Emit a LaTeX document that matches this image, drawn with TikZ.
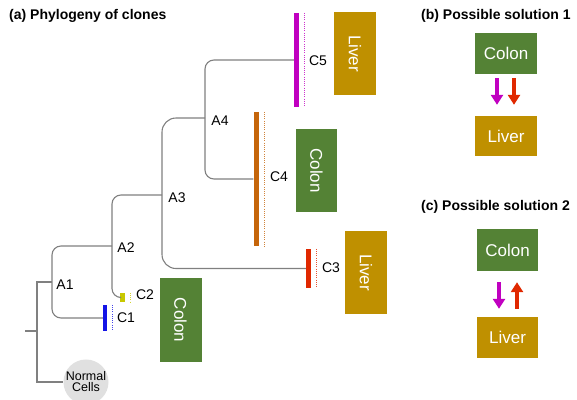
\documentclass[tikz,border=0pt]{standalone}
\usepackage{fontspec}
\setmainfont{Liberation Sans}
\usetikzlibrary{arrows.meta}
\definecolor{liver}{HTML}{BF9000}
\definecolor{colon}{HTML}{548235}
\definecolor{cmag}{HTML}{C000C0}
\definecolor{cred}{HTML}{E02800}
\definecolor{corange}{HTML}{C5650A}
\definecolor{cyellow}{HTML}{C8C800}
\definecolor{cblue}{HTML}{1414E6}
\begin{document}
\begin{tikzpicture}[x=1pt,y=-1pt,
    branch/.style={draw=black!50, line width=1.1pt, rounded corners=9pt},
    clone/.style={rectangle, inner sep=0pt, minimum width=5pt},
    organ/.style={rectangle, inner sep=0pt, text=white, font=\fontsize{17}{17}\selectfont},
    lab/.style={font=\fontsize{14}{14}\selectfont, inner sep=1pt},
    title/.style={font=\fontsize{14}{14}\selectfont\bfseries, anchor=west, inner sep=0pt},
    mig/.style={line width=3.5pt, -{Triangle[length=10pt,width=12pt]}}]
    \useasboundingbox (0,0) rectangle (577,399);
    \node[title] (ta) at (9,16) {(a) Phylogeny of clones};
    \node[title] (tb) at (421,16) {(b) Possible solution 1};
    \node[title] (tc) at (421,207) {(c) Possible solution 2};
    % clones
    \node[clone, fill=cmag, minimum height=94pt] (c5) at (296.5,60) {};
    \node[clone, fill=corange, minimum height=134pt] (c4) at (256,179) {};
    \node[clone, fill=cred, minimum height=39pt] (c3) at (308.5,268.5) {};
    \node[clone, fill=cyellow, minimum height=9pt] (c2) at (122.5,297.5) {};
    \node[clone, fill=cblue, minimum width=4pt, minimum height=26pt] (c1) at (105,318) {};
    \foreach \c/\col in {c1/cblue,c2/cyellow,c3/cred,c4/corange,c5/cmag}
    \draw[\col!80, line width=1.4pt, dash pattern=on 1pt off 1.2pt] ([xshift=5.5pt]\c.north east) -- ([xshift=5.5pt]\c.south east);
    \node[circle, fill=black!12, minimum size=44pt, inner sep=0pt, align=center,
      font=\fontsize{12.5}{11}\selectfont] (normal) at (86,382) {Normal\\Cells};
    % tree
    \coordinate (a4) at (205,118);
    \coordinate (a3) at (162,195);
    \coordinate (a2) at (112,246);
    \coordinate (a1) at (52,282);
    \coordinate (root) at (37,331);
    \coordinate (stub) at (25,331);
    \draw[branch] (c5.west) -| (a4) |- (c4.west);
    \draw[branch, rounded corners=14pt] (a4) -| (a3) |- (c3.west);
    \draw[branch] (a3) -| (a2) |- (c2.west);
    \draw[branch] (a2) -| (a1) |- (c1.west);
    \draw[branch, rounded corners=0pt] (a1) -| (root) |- (normal.west);
    \draw[branch] (stub) -- (root);
    \foreach \n/\x/\y in {A1/65/285, A2/126/248, A3/177/198, A4/220/121}
    \node[lab] (\n) at (\x,\y) {\n};
    \foreach \n/\x/\y in {C1/126/318, C2/145/295, C3/331/268, C4/279/177, C5/318/61}
    \node[lab] (l\n) at (\x,\y) {\n};
    % organs
    \node[organ, fill=liver, rotate=-90, minimum width=83pt, minimum height=42pt] (liver5) at (355,53.5) {Liver};
    \node[organ, fill=colon, rotate=-90, minimum width=83pt, minimum height=41pt] (colon4) at (316.5,170.5) {Colon};
    \node[organ, fill=liver, rotate=-90, minimum width=83pt, minimum height=42pt] (liver3) at (366,272.5) {Liver};
    \node[organ, fill=colon, rotate=-90, minimum width=84pt, minimum height=42pt] (colon1) at (180.5,320) {Colon};
    % solutions
    \node[organ, fill=colon, minimum width=62pt, minimum height=41pt] (colonb) at (506,53.5) {Colon};
    \node[organ, fill=liver, minimum width=62pt, minimum height=40pt] (liverb) at (506,136) {Liver};
    \node[organ, fill=colon, minimum width=61pt, minimum height=42pt] (colonc) at (507.5,250) {Colon};
    \node[organ, fill=liver, minimum width=61pt, minimum height=41pt] (liverc) at (507.5,337.5) {Liver};
    \draw[mig, cmag] ([xshift=-9pt,yshift=-4pt]colonb.south) -- ([xshift=-9pt,yshift=11pt]liverb.north);
    \draw[mig, cred] ([xshift=8pt,yshift=-4pt]colonb.south) -- ([xshift=8pt,yshift=11pt]liverb.north);
    \draw[mig, cmag] ([xshift=-8.5pt,yshift=-11pt]colonc.south) -- ([xshift=-8.5pt,yshift=8pt]liverc.north);
    \draw[mig, cred] ([xshift=9.5pt,yshift=8pt]liverc.north) -- ([xshift=9.5pt,yshift=-11pt]colonc.south);
\end{tikzpicture}
\end{document}
